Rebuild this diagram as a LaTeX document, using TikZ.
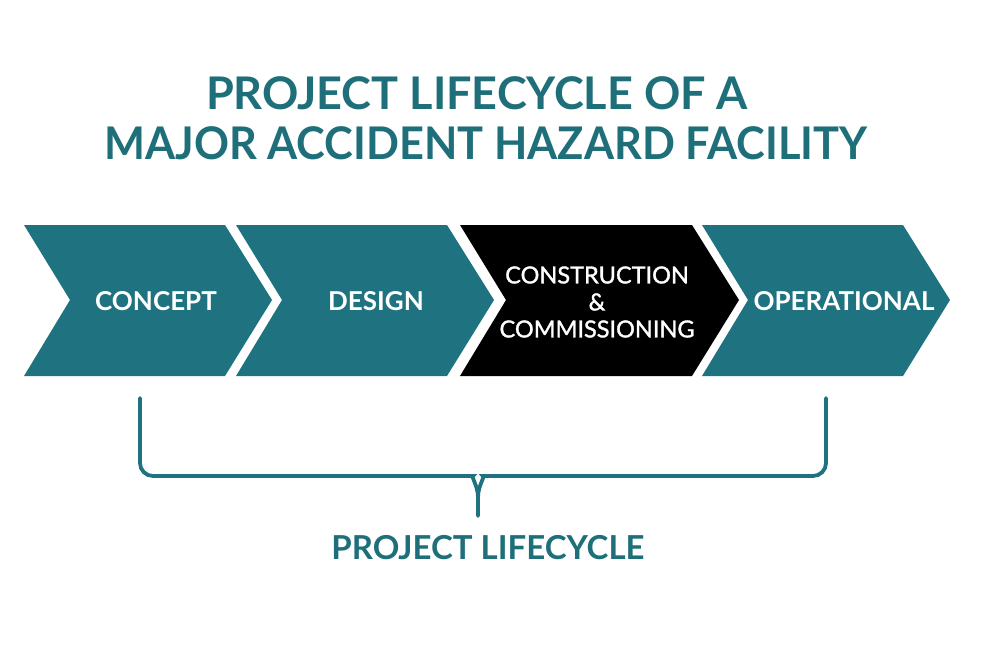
\documentclass[tikz,border=0pt]{standalone}
\usepackage{fontspec}
\setmainfont{Lato}
\newfontfamily\semilato[FakeBold=1.4]{Lato}
\usetikzlibrary{calc}
\definecolor{stagecol}{HTML}{1F7380}
\definecolor{titlecol}{HTML}{1E6F7A}
\def\chevron[#1](#2:#3){\fill[#1] (#2,225) -- (#3,225) -- (#3+47,300) -- (#3,376) -- (#2,376) -- (#2+46,300) -- cycle;}

\begin{document}
\begin{tikzpicture}[x=1pt,y=-1pt,
	stagelabel/.style={text=white,font=\bfseries\fontsize{26}{28}\selectfont},
	titlelabel/.style={text=titlecol,font=\bfseries\fontsize{45}{50}\selectfont},
	bracestyle/.style={draw=stagecol,line width=3.8pt,line cap=round}]
			%%%%% START %%%%%
			\useasboundingbox[fill=white] (0,0) rectangle (1000,667);
			
			\node[titlelabel] (title1) at (477,93) {PROJECT LIFECYCLE OF A};
			\node[titlelabel] (title2) at (486,143) {\scalebox{0.963}[1]{MAJOR ACCIDENT HAZARD FACILITY}};
			
			\chevron[stagecol](24:225);
			\chevron[stagecol](236:447);
			\chevron[black](460:692);
			\chevron[stagecol](702:903);
			
			\node[stagelabel] (concept) at (156,301) {CONCEPT};
			\node[stagelabel] (design) at (376,301) {DESIGN};
			\node[stagelabel,font=\semilato\fontsize{23.5}{27}\selectfont,align=center] (construction) at (597,302) {CONSTRUCTION\\\&\\COMMISSIONING};
			\node[stagelabel] (operational) at (844,301) {OPERATIONAL};
			
			\coordinate (braceL) at (140,398);
			\coordinate (braceR) at (826,398);
			\coordinate (braceM) at (478,497);
			\coordinate (braceTip) at (478,516);
			
			\draw[bracestyle] (braceL) [rounded corners=13pt] -- (140,476) -- (460,476) [sharp corners] to[out=0,in=90] (braceM) -- (braceTip);
			\draw[bracestyle] (braceR) [rounded corners=13pt] -- (826,476) -- (496,476) [sharp corners] to[out=180,in=90] (braceM);
			
			\node[titlelabel,font=\bfseries\fontsize{33}{35}\selectfont] (lifecycle) at (488,548) {PROJECT LIFECYCLE};
			%%%%% END %%%%%
\end{tikzpicture}
\end{document}
